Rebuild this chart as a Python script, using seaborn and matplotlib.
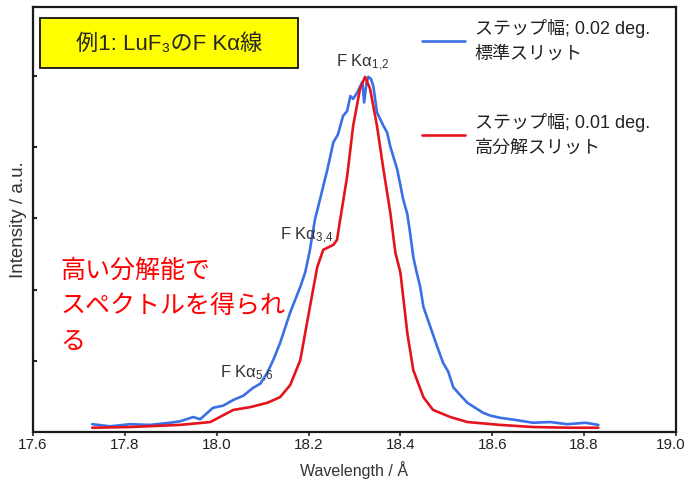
import pandas as pd
import seaborn as sns
import matplotlib.pyplot as plt
from matplotlib.patches import Rectangle

# blue: step 0.02 deg, standard slit
blue_wl = [17.729, 17.768, 17.811, 17.855, 17.898, 17.920, 17.949, 17.964, 17.992, 18.014,
           18.036, 18.058, 18.079, 18.095, 18.110, 18.123, 18.138, 18.160, 18.182, 18.193,
           18.203, 18.214, 18.225, 18.241, 18.254, 18.264, 18.275, 18.284, 18.291, 18.297,
           18.306, 18.312, 18.317, 18.321, 18.326, 18.330, 18.336, 18.341, 18.349, 18.363,
           18.371, 18.378, 18.393, 18.406, 18.415, 18.421, 18.428, 18.434, 18.443, 18.450,
           18.458, 18.465, 18.480, 18.493, 18.504, 18.515, 18.530, 18.546, 18.563, 18.580,
           18.596, 18.617, 18.650, 18.689, 18.726, 18.763, 18.803, 18.831]
blue_int = [0.11, 0.08, 0.11, 0.10, 0.13, 0.15, 0.21, 0.18, 0.34, 0.37,
            0.45, 0.51, 0.62, 0.68, 0.83, 1.01, 1.25, 1.68, 2.04, 2.25,
            2.56, 2.99, 3.27, 3.69, 4.07, 4.18, 4.44, 4.51, 4.72, 4.68,
            4.77, 4.85, 4.92, 4.63, 4.90, 4.99, 4.96, 4.86, 4.49, 4.30,
            4.21, 4.01, 3.69, 3.27, 3.06, 2.80, 2.46, 2.28, 2.04, 1.76,
            1.61, 1.48, 1.20, 0.97, 0.85, 0.63, 0.52, 0.41, 0.34, 0.27,
            0.23, 0.20, 0.17, 0.13, 0.14, 0.11, 0.13, 0.10]

# red: step 0.01 deg, high-resolution slit
red_wl = [17.729, 17.811, 17.920, 17.986, 18.036, 18.073, 18.110, 18.138, 18.160, 18.182,
          18.203, 18.219, 18.232, 18.254, 18.262, 18.269, 18.284, 18.297, 18.312, 18.323,
          18.334, 18.349, 18.363, 18.378, 18.389, 18.400, 18.415, 18.428, 18.450, 18.471,
          18.509, 18.546, 18.617, 18.689, 18.770, 18.831]
red_int = [0.06, 0.07, 0.10, 0.14, 0.31, 0.35, 0.41, 0.49, 0.66, 1.01,
           1.76, 2.32, 2.56, 2.63, 2.70, 2.99, 3.59, 4.30, 4.82, 4.99,
           4.82, 4.30, 3.69, 3.08, 2.52, 2.24, 1.39, 0.87, 0.49, 0.31,
           0.21, 0.14, 0.10, 0.07, 0.06, 0.06]

blue_label = "ステップ幅; 0.02 deg.\n標準スリット"
red_label = "ステップ幅; 0.01 deg.\n高分解スリット"
x_ticks = [17.6, 17.8, 18.0, 18.2, 18.4, 18.6, 18.8, 19.0]

sns.set_style("ticks")
plt.rcParams['font.family'] = ['Noto Sans CJK JP', 'DejaVu Sans']
plt.rcParams['mathtext.fontset'] = 'custom'
plt.rcParams['mathtext.rm'] = 'Liberation Sans'
plt.rcParams['mathtext.it'] = 'Liberation Sans:italic'
ARIAL_JP = ['Liberation Sans', 'Noto Sans CJK JP', 'DejaVu Sans']

fig = plt.figure(figsize=(6.87, 4.84), dpi=100)
ax = fig.add_axes([0.048, 0.1074, 0.936, 0.878])

df_blue = pd.DataFrame({"wl": blue_wl, "I": blue_int})
df_red = pd.DataFrame({"wl": red_wl, "I": red_int})
sns.lineplot(data=df_blue, x="wl", y="I", color="#3b6fe6", lw=1.9, label=blue_label, ax=ax)
sns.lineplot(data=df_red, x="wl", y="I", color="#e5131b", lw=1.9, label=red_label, ax=ax)

ax.set_xlim(17.6, 19.0)
ax.set_ylim(0, 5.97)
ax.set_xticks(x_ticks)
# the last label would spill off the figure edge, so it is drawn separately
ax.set_xticklabels([f"{t:.1f}" for t in x_ticks[:-1]] + [""], fontsize=11,
                   color="#222222", family="Liberation Sans")
ax.annotate(f"{x_ticks[-1]:.1f}", xy=(1, 0), xycoords="axes fraction",
            xytext=(7, -4.5), textcoords="offset points", ha="right", va="top",
            fontsize=11, color="#222222", family="Liberation Sans")
ax.set_yticks([1, 2, 3, 4, 5])
ax.set_yticklabels([])
ax.tick_params(axis="y", direction="in", length=3, width=1.5)
ax.tick_params(axis="x", direction="out", length=3, width=1.2, pad=1)
for s in ax.spines.values():
    s.set_linewidth(1.6)
    s.set_color("#1a1a1a")

ax.set_xlabel("Wavelength / Å", fontsize=11.5, color="#333333", labelpad=7,
              family="Liberation Sans")
ax.set_ylabel("Intensity / a.u.", fontsize=13.5, color="#333333", labelpad=1,
              family="Liberation Sans")

leg = ax.legend(loc="upper left", bbox_to_anchor=(0.594, 0.99), frameon=False,
                borderaxespad=0, prop={'family': ARIAL_JP, 'size': 13},
                handlelength=2.4, handletextpad=0.5, labelspacing=2.8)
for t in leg.get_texts():
    t.set_linespacing(1.6)
    t.set_color("#222222")

# title box
fig.patches.append(Rectangle((40 / 687, 1 - 68 / 484), 258 / 687, 50 / 484,
                             transform=fig.transFigure, facecolor="#ffff00",
                             edgecolor="#111111", lw=1.3, zorder=5))
fig.text(169 / 687, 1 - 44 / 484, "例1: LuF₃のF Kα線", fontsize=16,
         family=ARIAL_JP, ha="center", va="center", zorder=6)

# peak labels
ax.text(18.318, 5.05, "F Kα$_{1{,}2}$", fontsize=12, color="#333333", ha="center",
        va="bottom", family="Liberation Sans")
ax.text(18.195, 2.62, "F Kα$_{3{,}4}$", fontsize=12, color="#333333", ha="center",
        va="bottom", family="Liberation Sans")
ax.text(18.065, 0.68, "F Kα$_{5{,}6}$", fontsize=12, color="#333333", ha="center",
        va="bottom", family="Liberation Sans")

ax.text(17.66, 2.45, "高い分解能で\nスペクトルを得られ\nる", fontsize=18,
        color="#ff0000", ha="left", va="top", linespacing=1.48)

fig.savefig("out.png", dpi=100)
